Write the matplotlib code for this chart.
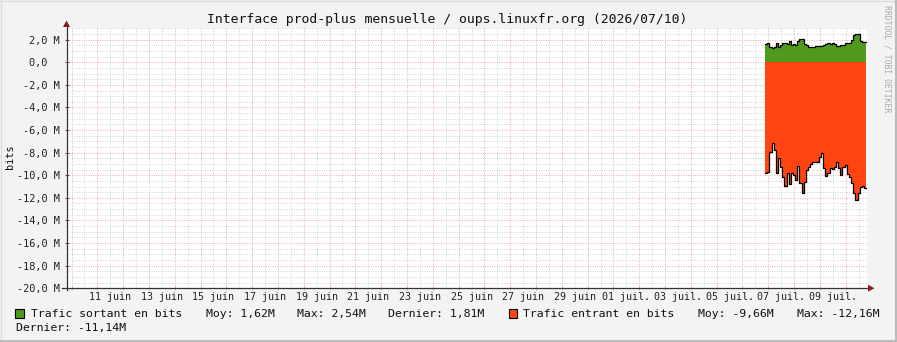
import matplotlib
matplotlib.use("Agg")
import matplotlib.pyplot as plt
import numpy as np
from matplotlib.patches import Rectangle, Polygon
from matplotlib.lines import Line2D

# x axis in days counted from 1 June 2026 (1 juil. = day 31)
x_start, x_end = 9.806, 40.806
first_sample = 36.875      # 6 juil. 21:00
step_days = 2 / 24.0       # 2 h per sample

# values in Mbit/s
trafic_sortant = [1.59, 1.68, 1.38, 1.27, 1.38, 1.73, 1.38, 1.50, 1.68, 1.73,
                  1.62, 1.91, 1.56, 1.62, 1.53, 1.85, 2.03, 2.03, 1.60, 1.53,
                  1.38, 1.38, 1.33, 1.40, 1.44, 1.44, 1.46, 1.52, 1.65, 1.68,
                  1.64, 1.68, 1.58, 1.47, 1.44, 1.50, 1.55, 1.68, 1.73, 1.73,
                  1.97, 2.40, 2.54, 2.50, 1.91, 1.76, 1.81]
trafic_entrant = [-9.83, -9.68, -7.91, -7.11, -7.76, -9.83, -8.50, -9.24, -10.12, -10.95,
                  -9.83, -10.77, -9.77, -9.97, -10.42, -9.18, -10.65, -11.60, -10.56, -9.53,
                  -9.24, -9.00, -8.80, -8.85, -8.80, -8.35, -8.00, -9.33, -10.06, -9.83,
                  -9.38, -9.44, -9.24, -8.80, -9.38, -9.97, -9.24, -9.10, -9.90, -10.12,
                  -10.71, -11.60, -12.16, -11.56, -11.00, -10.95, -11.14]

day_ticks = [11, 13, 15, 17, 19, 21, 23, 25, 27, 29, 31, 33, 35, 37, 39]
day_labels = ["11 juin", "13 juin", "15 juin", "17 juin", "19 juin", "21 juin",
              "23 juin", "25 juin", "27 juin", "29 juin", "01 juil.", "03 juil.",
              "05 juil.", "07 juil.", "09 juil."]

y_ticks = [2, 0, -2, -4, -6, -8, -10, -12, -14, -16, -18, -20]
y_labels = ["2,0 M", "0,0  ", "-2,0 M", "-4,0 M", "-6,0 M", "-8,0 M", "-10,0 M",
            "-12,0 M", "-14,0 M", "-16,0 M", "-18,0 M", "-20,0 M"]

title = "Interface prod-plus mensuelle / oups.linuxfr.org (2026/07/10)"
sortant_stats = ["Trafic sortant en bits", "Moy: 1,62M", "Max: 2,54M", "Dernier: 1,81M"]
entrant_stats = ["Trafic entrant en bits", "Moy: -9,66M", "Max: -12,16M", "Dernier: -11,14M"]

GREEN = "#4F9A1C"
RED = "#FF4412"
BG = "#F3F3F3"
MONO = "DejaVu Sans Mono"

W, H = 897, 342
fig = plt.figure(figsize=(W / 100, H / 100), dpi=100, facecolor=BG)

# plot area in pixels
px_l, px_r, px_t, px_b = 66.5, 866.5, 28.4, 288.2
ax = fig.add_axes([px_l / W, 1 - px_b / H, (px_r - px_l) / W, (px_b - px_t) / H])
ax.set_facecolor("white")
ax.set_xlim(x_start, x_end)
ax.set_ylim(-20, 3.0)

# grid
ax.set_xticks(np.arange(10, 41))
ax.set_xticks(np.arange(10, 41) + 0.5, minor=True)
ax.set_yticks(np.arange(-20, 3.01, 0.5), minor=True)
ax.grid(which="minor", color="#D4D4D4", linestyle=(0, (1, 1.4)), linewidth=0.7)
ax.grid(which="major", color="#F4AAAA", linestyle=(0, (1, 1.4)), linewidth=0.7)
ax.set_axisbelow(True)
ax.set_xticklabels([])
ax.set_yticks(y_ticks)
ax.set_yticklabels(y_labels, fontfamily=MONO, fontsize=7.4, color="#222222")
ax.tick_params(axis="y", which="major", direction="inout", length=3, width=0.7,
               color="#555555", pad=3.4)
ax.tick_params(axis="x", which="major", direction="inout", length=3, width=0.7,
               color="#F2A3A3")
ax.tick_params(which="minor", length=0)
for s in ax.spines.values():
    s.set_visible(False)

# data, step style like rrdtool
t = first_sample + step_days * np.arange(len(trafic_sortant) + 1)
out_v = np.append(trafic_sortant, trafic_sortant[-1])
in_v = np.append(trafic_entrant, trafic_entrant[-1])
ax.fill_between(t, 0, out_v, step="post", color=GREEN, linewidth=0, zorder=3)
ax.fill_between(t, 0, in_v, step="post", color=RED, linewidth=0, zorder=3)
ax.step(t, out_v, where="post", color="black", linewidth=0.9, zorder=4)
ax.step(t, in_v, where="post", color="black", linewidth=0.9, zorder=4)

# x labels at noon of the day
for d, lab in zip(day_ticks, day_labels):
    ax.text(d + 0.5, -9.3 / (px_b - px_t), lab, transform=ax.get_xaxis_transform(),
            ha="center", va="center", fontfamily=MONO, fontsize=7.2, color="#222222")

# axes with arrows (figure pixel coords)
def fx(x):
    return x / W

def fy(y):
    return 1 - y / H

axis_col = "#333333"
arrow_col = "#8B1A1A"
fig.add_artist(Line2D([fx(px_l), fx(px_l)], [fy(px_b + 2), fy(24)], color=axis_col,
                      lw=0.9, zorder=10))
fig.add_artist(Line2D([fx(62), fx(870)], [fy(px_b), fy(px_b)], color=axis_col,
                      lw=0.9, zorder=10))
fig.add_artist(Polygon([[fx(px_l - 3.5), fy(27)], [fx(px_l + 3.5), fy(27)], [fx(px_l), fy(20.5)]],
                       closed=True, color=arrow_col, lw=0, zorder=10))
fig.add_artist(Polygon([[fx(868), fy(px_b - 3.5)], [fx(868), fy(px_b + 3.5)], [fx(874.5), fy(px_b)]],
                       closed=True, color=arrow_col, lw=0, zorder=10))

# title and axis label
fig.text(fx(447), fy(19), title, ha="center", va="center", fontfamily=MONO,
         fontsize=9.45, color="#111111")
fig.text(fx(10), fy(157), "bits", rotation=90, ha="center", va="center",
         fontfamily=MONO, fontsize=7.4, color="#111111")
fig.text(fx(887), fy(5), "RRDTOOL / TOBI OETIKER", rotation=270, ha="center", va="top",
         fontfamily=MONO, fontsize=5.9, color="#AAAAAA")

# legend
def legend_box(x, color):
    fig.add_artist(Rectangle((fx(x), fy(317.5)), 8.5 / W, 8.5 / H, facecolor=color,
                             edgecolor="black", lw=0.8))

legend_box(15, GREEN)
legend_box(508.5, RED)
row1 = [(30.7, sortant_stats[0]), (205.7, sortant_stats[1]), (296.7, sortant_stats[2]),
        (388.3, sortant_stats[3]), (523.3, entrant_stats[0]), (698.3, entrant_stats[1]),
        (796.7, entrant_stats[2])]
for x, s in row1:
    fig.text(fx(x), fy(314), s, ha="left", va="center", fontfamily=MONO,
             fontsize=8.25, color="#111111")
fig.text(fx(16), fy(328.5), entrant_stats[3], ha="left", va="center", fontfamily=MONO,
         fontsize=8.25, color="#111111")

# image frame
fig.add_artist(Line2D([0, 1], [fy(0.5), fy(0.5)], color="#DDDDDD", lw=1))
fig.add_artist(Line2D([fx(0.5), fx(0.5)], [0, 1], color="#DDDDDD", lw=1))
fig.add_artist(Line2D([0, 1], [fy(341), fy(341)], color="#BBBBBB", lw=1.5))
fig.add_artist(Line2D([fx(896), fx(896)], [0, 1], color="#BBBBBB", lw=1.5))

fig.savefig("out.png", dpi=100, facecolor=BG)
